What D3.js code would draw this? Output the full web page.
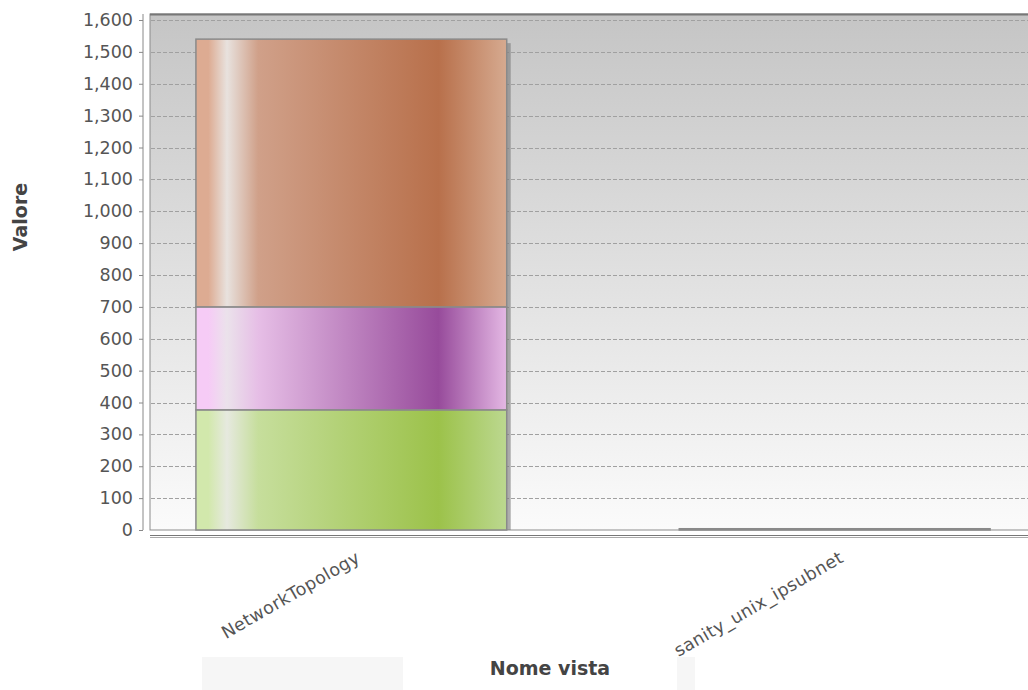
<!DOCTYPE html>
<html><head><meta charset="utf-8">
<script src="https://cdn.jsdelivr.net/npm/d3@7"></script>
<style>
html,body{margin:0;padding:0;background:#fff;}
svg{display:block;}
</style></head>
<body>
<svg id="chart" width="1028" height="690"></svg>
<script>
const categories = ["NetworkTopology", "sanity_unix_ipsubnet"];
const seriesNames = ["Serie 1", "Serie 2", "Serie 3"];
const series1 = [377, 4];
const series2 = [323, 0];
const series3 = [840, 0];
const yTicks = [0,100,200,300,400,500,600,700,800,900,1000,1100,1200,1300,1400,1500,1600];
const yLabel = "Valore";
const xLabel = "Nome vista";

const palettes = [
  {edge:"#d2e8ac", hi:"#e6e9df", light:"#c6de9c", dark:"#9cc24a", right:"#bcd890"},
  {edge:"#f6cbf6", hi:"#ebe2eb", light:"#e6bee6", dark:"#974b9b", right:"#e4b8e4"},
  {edge:"#ddab92", hi:"#e8e2de", light:"#d0a089", dark:"#b8704b", right:"#d6aa90"}
];

const svg = d3.select("#chart");
const pL = 150, pT = 14, pB = 530, pR = 1036;

const x = d3.scaleBand().domain(categories).range([pL, pR]).paddingInner(0.357).paddingOuter(0.095);
const y = d3.scaleLinear().domain([0, 1600]).range([pB, 20]);

const defs = svg.append("defs");
const bg = defs.append("linearGradient").attr("id","bg").attr("x1",0).attr("y1",0).attr("x2",0).attr("y2",1);
bg.append("stop").attr("offset","0%").attr("stop-color","#c5c5c5");
bg.append("stop").attr("offset","100%").attr("stop-color","#fbfbfb");

palettes.forEach((p,i)=>{
  const g = defs.append("linearGradient").attr("id","g"+i).attr("x1",0).attr("y1",0).attr("x2",1).attr("y2",0);
  [[0,p.edge],[0.04,p.edge],[0.1,p.hi],[0.2,p.light],[0.78,p.dark],[1,p.right]].forEach(s=>{
    g.append("stop").attr("offset",s[0]).attr("stop-color",s[1]);
  });
});

// plot background
svg.append("rect").attr("x",pL).attr("y",pT).attr("width",pR-pL).attr("height",pB-pT)
  .attr("fill","url(#bg)").attr("stroke","#8c8c8c").attr("stroke-width",1);
svg.append("line").attr("x1",pL).attr("x2",pR).attr("y1",pT+0.5).attr("y2",pT+0.5)
  .attr("stroke","#777").attr("stroke-width",2);

// gridlines
svg.append("g").selectAll("line").data(yTicks.filter(d=>d>0)).join("line")
  .attr("x1",pL+1).attr("x2",pR).attr("y1",d=>Math.round(y(d))+0.5).attr("y2",d=>Math.round(y(d))+0.5)
  .attr("stroke","#a0a0a0").attr("stroke-width",1).attr("stroke-dasharray","4,2");

// stacked data
const rows = categories.map((c,i)=>({cat:c, s0:series1[i], s1:series2[i], s2:series3[i]}));
const stack = d3.stack().keys(["s0","s1","s2"])(rows);

// shadows
svg.append("g").selectAll("rect").data(rows).join("rect")
  .attr("x",d=>x(d.cat)+4).attr("width",x.bandwidth())
  .attr("y",d=>y(d.s0+d.s1+d.s2)+4)
  .attr("height",d=>Math.max(0, pB - y(d.s0+d.s1+d.s2) - 4))
  .attr("fill","#7a7a7a").attr("opacity",0.6);

// bars
stack.forEach((layer,i)=>{
  svg.append("g").selectAll("rect").data(layer).join("rect")
    .attr("x",d=>x(d.data.cat)).attr("width",x.bandwidth())
    .attr("y",d=>y(d[1])).attr("height",d=>Math.max(0,y(d[0])-y(d[1])))
    .attr("fill","url(#g"+i+")").attr("stroke","#8a8a8a").attr("stroke-width",1.5);
});

// y axis
const yAxis = d3.axisLeft(y).tickValues(yTicks).tickFormat(d3.format(",")).tickSize(4).tickPadding(6);
const ya = svg.append("g").attr("transform","translate(143,0)").call(yAxis);
ya.select(".domain").attr("d","M0,"+pT+"V"+pB).attr("stroke","#888");
ya.selectAll(".tick line").attr("stroke","#888");
ya.selectAll("text").attr("font-family","DejaVu Sans").attr("font-size",17.5).attr("fill","#555");

// x axis double line
svg.append("line").attr("x1",pL).attr("x2",1028).attr("y1",535.5).attr("y2",535.5).attr("stroke","#777").attr("stroke-width",1.2);
svg.append("line").attr("x1",pL).attr("x2",1028).attr("y1",537.5).attr("y2",537.5).attr("stroke","#aaa").attr("stroke-width",1);

// x labels
svg.append("g").selectAll("text").data(categories).join("text")
  .attr("transform",d=>`translate(${x(d)+x.bandwidth()/2+10},561) rotate(-30)`)
  .attr("text-anchor","end")
  .attr("font-family","DejaVu Sans").attr("font-size",17.5).attr("letter-spacing",0.4).attr("fill","#555")
  .text(d=>d);

// remnant boxes
svg.append("rect").attr("x",202).attr("y",657).attr("width",201).attr("height",33).attr("fill","#f6f6f6");
svg.append("rect").attr("x",677).attr("y",657).attr("width",18).attr("height",33).attr("fill","#f6f6f6");

// axis titles
svg.append("text").attr("x",550).attr("y",675).attr("text-anchor","middle")
  .attr("font-family","DejaVu Sans").attr("font-weight","bold").attr("font-size",19).attr("fill","#444").text(xLabel);
svg.append("text").attr("transform","translate(27,217) rotate(-90)").attr("text-anchor","middle")
  .attr("font-family","DejaVu Sans").attr("font-weight","bold").attr("font-size",19).attr("fill","#444").text(yLabel);
</script>
</body></html>
